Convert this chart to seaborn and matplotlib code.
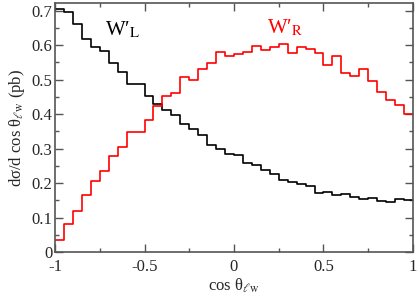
import numpy as np
import pandas as pd
import matplotlib
matplotlib.use("Agg")
import matplotlib.pyplot as plt
import seaborn as sns
from matplotlib.ticker import MultipleLocator

# 40 bins of cos(theta_lw) between -1 and 1 (bin centres)
bin_centers = np.round(np.arange(-0.975, 1.0, 0.05), 3)

# dsigma/dcos(theta) in pb
w_left = [0.705, 0.695, 0.660, 0.618, 0.595, 0.583, 0.549, 0.523, 0.486, 0.486,
          0.451, 0.429, 0.412, 0.398, 0.372, 0.356, 0.339, 0.310, 0.299, 0.283,
          0.282, 0.258, 0.252, 0.239, 0.226, 0.210, 0.203, 0.196, 0.192, 0.172,
          0.174, 0.164, 0.167, 0.160, 0.153, 0.156, 0.147, 0.145, 0.153, 0.150]
w_right = [0.036, 0.082, 0.118, 0.164, 0.206, 0.234, 0.279, 0.305, 0.349, 0.349,
           0.384, 0.424, 0.452, 0.461, 0.508, 0.500, 0.532, 0.547, 0.580, 0.567,
           0.573, 0.580, 0.598, 0.585, 0.594, 0.603, 0.578, 0.593, 0.588, 0.576,
           0.542, 0.568, 0.520, 0.509, 0.531, 0.496, 0.465, 0.441, 0.425, 0.399]

x_ticks = [-1, -0.5, 0, 0.5, 1]
x_tick_labels = ["-1", "-0.5", "0", "0.5", "1"]
y_tick_labels = ["0", "0.1", "0.2", "0.3", "0.4", "0.5", "0.6", "0.7"]

df = pd.DataFrame({"cos": bin_centers, "wl": w_left, "wr": w_right})

sns.set_style("ticks")
plt.rcParams["font.family"] = ["Liberation Serif", "DejaVu Serif"]
plt.rcParams["mathtext.fontset"] = "stix"

fig = plt.figure(figsize=(4.18, 2.96), dpi=100)
ax = fig.add_axes([0.1316, 0.1486, 0.8564, 0.8414])

sns.histplot(data=df, x="cos", weights="wl", binwidth=0.05, binrange=(-1, 1),
             element="step", fill=False, color="black", linewidth=1.2, ax=ax)
sns.histplot(data=df, x="cos", weights="wr", binwidth=0.05, binrange=(-1, 1),
             element="step", fill=False, color="#ff0000", linewidth=1.2, ax=ax)

ax.set_xlim(-1, 1)
ax.set_ylim(0, 0.722)
ax.set_xticks(x_ticks)
ax.set_xticklabels(x_tick_labels)
ax.xaxis.set_minor_locator(MultipleLocator(0.25))
ax.set_yticks([i / 10 for i in range(8)])
ax.set_yticklabels(y_tick_labels)
ax.yaxis.set_minor_locator(MultipleLocator(0.05))
ax.tick_params(which="both", direction="in", top=True, right=True,
               labelsize=12, color="#555555")
ax.tick_params(axis="x", pad=5)
ax.tick_params(axis="y", pad=2)
ax.tick_params(which="major", length=6, width=1)
ax.tick_params(which="minor", length=3, width=1)
for s in ax.spines.values():
    s.set_linewidth(1.2)
    s.set_color("#555555")

ax.set_xlabel(r"cos θ$_{\ell \rm w}$", fontsize=12, labelpad=1)
ax.set_ylabel(r"dσ/d cos θ$_{\ell \rm w}$ (pb)", fontsize=12, labelpad=3)

ax.text(-0.72, 0.628, r"W′$_{\rm L}$", fontsize=15, color="black")
ax.text(0.185, 0.634, r"W′$_{\rm R}$", fontsize=15, color="#ff0000")

fig.savefig("out.png", dpi=100)
